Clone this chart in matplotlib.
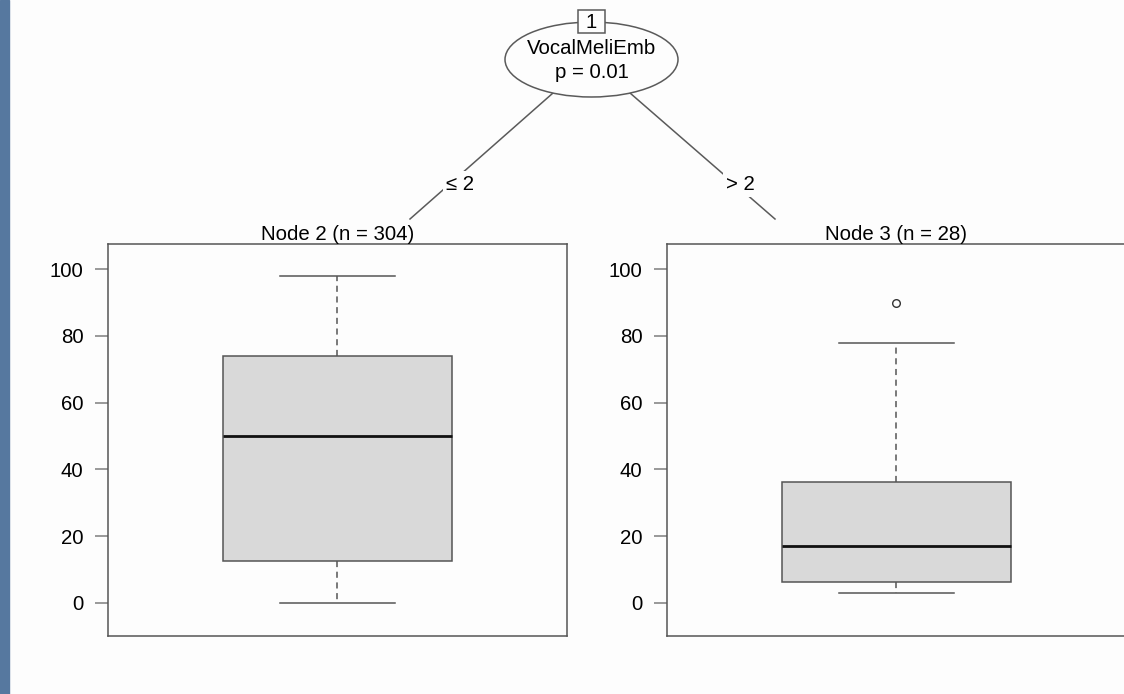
import matplotlib
matplotlib.use("Agg")
import matplotlib.pyplot as plt
from matplotlib.patches import Ellipse, Rectangle

plt.rcParams['font.family'] = ['Liberation Sans', 'DejaVu Sans']

# tree data
split_var = "VocalMeliEmb"
split_p = "p = 0.01"
edge_labels = ["\u2264 2", "> 2"]
node_titles = ["Node 2 (n = 304)", "Node 3 (n = 28)"]

# boxplot summaries
whislo = [0, 3]
q1 = [12.5, 6.1]
med = [50, 17]
q3 = [74, 36.3]
whishi = [98, 78]
fliers = [[], [90]]

yticks = [0, 20, 40, 60, 80, 100]

FS = 14.7
W, H = 1124, 694
fig = plt.figure(figsize=(W / 100, H / 100), dpi=100, facecolor="#fdfdfd")

# canvas axes in pixel coords for the tree part
cv = fig.add_axes([0, 0, 1, 1])
cv.set_xlim(0, W)
cv.set_ylim(H, 0)
cv.axis("off")
cv.add_patch(Rectangle((0, 0), 9, H, color="#56789f", zorder=0))

line_col = "#5a5a5a"
cv.plot([553, 410], [93, 219], color=line_col, lw=1.1, zorder=1)
cv.plot([630, 775], [93, 219], color=line_col, lw=1.1, zorder=1)
for lab, x in zip(edge_labels, [460, 740]):
    cv.text(x, 184, lab, ha="center", va="center", fontsize=FS,
            bbox=dict(boxstyle="square,pad=0.15", fc="#fdfdfd", ec="none"), zorder=2)

cv.add_patch(Ellipse((591.5, 59.5), 173, 75, fc="#fdfdfd", ec=line_col, lw=1.1, zorder=3))
cv.add_patch(Rectangle((578, 10), 27, 23, fc="#fdfdfd", ec=line_col, lw=1.1, zorder=4))
cv.text(591.5, 22, "1", ha="center", va="center", fontsize=FS, zorder=5)
cv.text(591.5, 48, split_var, ha="center", va="center", fontsize=FS, zorder=5)
cv.text(591.5, 72, split_p, ha="center", va="center", fontsize=FS, zorder=5)

# terminal node panels (left x pixel, width)
panels = [(107.7, 459.5), (666.7, 459.5)]
top, bot = 244, 636
for i, (x0, pw) in enumerate(panels):
    ax = fig.add_axes([x0 / W, (H - bot) / H, pw / W, (bot - top) / H])
    ax.set_facecolor("#fdfdfd")
    stats = [dict(med=med[i], q1=q1[i], q3=q3[i], whislo=whislo[i],
                  whishi=whishi[i], fliers=fliers[i])]
    ax.bxp(stats, positions=[0.5], widths=0.5, patch_artist=True,
           boxprops=dict(facecolor="#d9d9d9", edgecolor="#555555", lw=1.1),
           medianprops=dict(color="#111111", lw=2),
           whiskerprops=dict(color="#555555", lw=1.1, ls=(0, (4, 3))),
           capprops=dict(color="#555555", lw=1.1),
           flierprops=dict(marker="o", markersize=5.5, mfc="none", mec="#333333", mew=1))
    ax.set_xlim(0, 1)
    ax.set_ylim(-10, 107.6)
    ax.set_xticks([])
    ax.set_yticks(yticks)
    ax.tick_params(axis="y", length=9.5, width=1.2, color="#888888", pad=8, labelsize=FS)
    for s in ax.spines.values():
        s.set_color("#555555")
        s.set_linewidth(1.1)
    ax.set_title(node_titles[i], fontsize=FS, pad=0.5)

fig.savefig("out.png", dpi=100, facecolor=fig.get_facecolor())
